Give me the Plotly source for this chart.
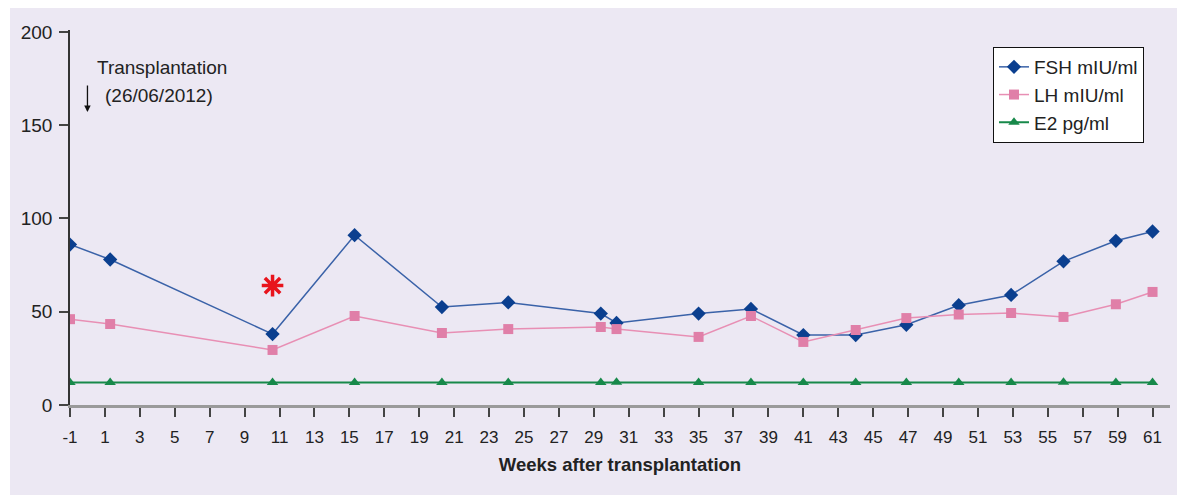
import plotly.graph_objects as go

weeks = [-1, 1.3, 10.6, 15.3, 20.3, 24.1, 29.4, 30.3, 35, 38, 41, 44, 46.9, 49.9, 52.9, 55.9, 58.9, 61]
fsh = [86, 78, 38, 91, 52.5, 55, 49, 44, 49, 51.5, 37.5, 37.5, 43, 53.5, 59, 77, 88, 93]
lh = [46, 43.4, 29.5, 47.7, 38.6, 40.7, 41.8, 40.7, 36.5, 47.7, 33.8, 40.2, 46.6, 48.5, 49.3, 47.2, 54, 60.6]
e2 = [12, 12, 12, 12, 12, 12, 12, 12.2, 12, 12, 12, 12, 12, 12, 12, 12.2, 12, 12]
x_ticks = list(range(-1, 62, 2))
y_ticks = [0, 50, 100, 150, 200]
star_x = [10.6]
star_y = [64]

FONT = "Liberation Sans, Arial, Helvetica, sans-serif"

fig = go.Figure()
fig.add_trace(go.Scatter(x=weeks, y=fsh, mode="lines+markers", name="FSH mIU/ml",
                         line=dict(color="#3a62a8", width=1.5),
                         marker=dict(symbol="diamond", size=11, color="#0b3f8f")))
fig.add_trace(go.Scatter(x=weeks, y=lh, mode="lines+markers", name="LH mIU/ml",
                         line=dict(color="#e88fb4", width=1.5),
                         marker=dict(symbol="square", size=10, color="#e07fa8")))
fig.add_trace(go.Scatter(x=weeks, y=e2, mode="lines+markers", name="E2 pg/ml",
                         line=dict(color="#17894a", width=2),
                         marker=dict(symbol="triangle-up", size=10, color="#17894a")))
fig.add_trace(go.Scatter(x=star_x, y=star_y, mode="markers", showlegend=False, hoverinfo="skip",
                         marker=dict(symbol="asterisk-open", size=18, color="#e8141c",
                                     line=dict(color="#e8141c", width=3.5))))

# lavender background panel
fig.add_shape(type="rect", xref="paper", yref="paper", layer="below",
              x0=-60/1100, x1=1.1, y0=-0.24, y1=1.07,
              fillcolor="#ece8f3", line=dict(width=0))

fig.add_annotation(x=0.43, y=180.7, xref="x", yref="y", text="Transplantation",
                   showarrow=False, xanchor="left", yanchor="middle", align="left",
                   font=dict(family=FONT, size=19, color="#222"))
fig.add_annotation(x=0.89, y=165.7, xref="x", yref="y", text="(26/06/2012)",
                   showarrow=False, xanchor="left", yanchor="middle", align="left",
                   font=dict(family=FONT, size=19, color="#222"))
fig.add_annotation(x=0, y=157, ax=0, ay=172, xref="x", yref="y", axref="x", ayref="y",
                   text="", showarrow=True, arrowhead=2, arrowsize=1, arrowwidth=1.3,
                   arrowcolor="#111")

fig.update_layout(
    width=1177, height=488,
    margin=dict(l=62, r=15, t=22, b=91),
    paper_bgcolor="white", plot_bgcolor="white",
    font=dict(family=FONT, size=17, color="#222"),
    showlegend=True,
    legend=dict(x=(993 - 70) / 1100, y=(405 - 47) / 375, xanchor="left", yanchor="top",
                bordercolor="#111", borderwidth=1, bgcolor="white",
                font=dict(family=FONT, size=19, color="#222"),
                tracegroupgap=0, itemwidth=30),
    xaxis=dict(range=[-1, 62], tickmode="array", tickvals=x_ticks,
               ticktext=[str(t) for t in x_ticks],
               tickfont=dict(size=17), ticklabelstandoff=6,
               showgrid=False, zeroline=False, showline=True, linecolor="#9a9a9a", linewidth=3,
               ticks="outside", ticklen=9, tickcolor="#444", tickwidth=1.5,
               title=dict(text="<b>Weeks after transplantation</b>", standoff=12,
                          font=dict(family=FONT, size=18.5, color="#222"))),
    yaxis=dict(range=[0, 201], tickmode="array", tickvals=y_ticks,
               tickfont=dict(size=19), ticklabelstandoff=3,
               showgrid=False, zeroline=False, showline=True, linecolor="#333", linewidth=1.5,
               ticks="outside", ticklen=9, tickcolor="#444", tickwidth=1.5),
)

fig.write_html("out.html")
